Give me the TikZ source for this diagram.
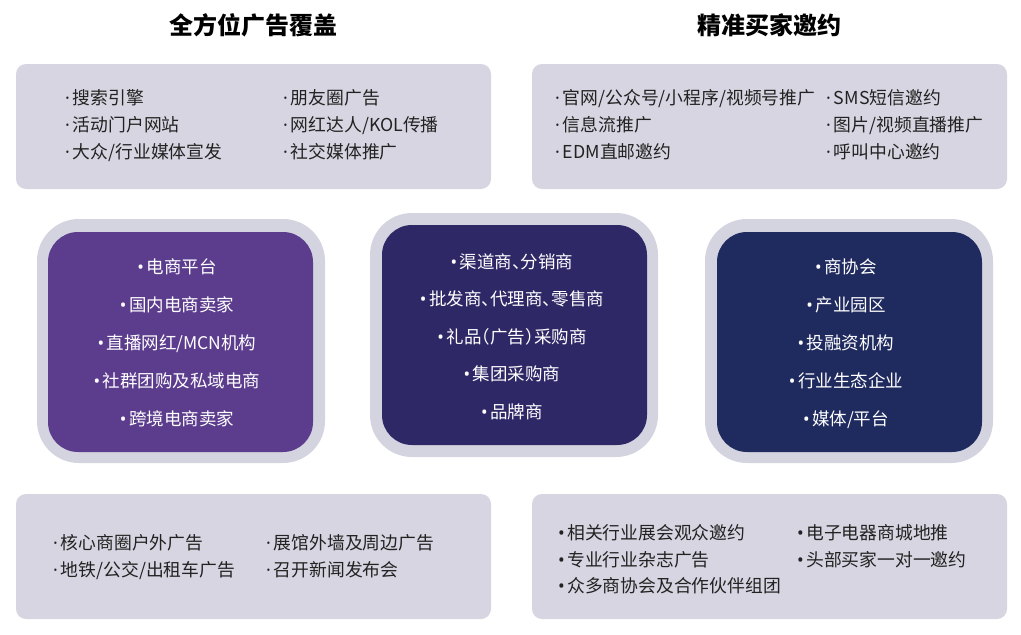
\documentclass[tikz,border=0pt]{standalone}
\usepackage{fontspec}
\setmainfont{Noto Sans CJK SC}
\newfontfamily\latinf{Noto Sans}
\newfontfamily\cjkhalt{Noto Sans CJK SC}[RawFeature=+halt]
\newcommand\mdotx{{\latinf ·}\kern3pt}
\newcommand\bulx{{\latinf •}\kern2.5pt}
\definecolor{panelgray}{HTML}{D6D5E1}
\definecolor{ringgray}{HTML}{D4D4E0}
\definecolor{cpurple}{HTML}{5C3D8D}
\definecolor{cindigo}{HTML}{2F2867}
\definecolor{cnavy}{HTML}{1F2A5E}
\definecolor{txt}{HTML}{222222}
\begin{document}
\begin{tikzpicture}[x=1pt,y=-1pt,
  panel/.style={fill=panelgray, draw=none, rounded corners=10pt, minimum width=475pt, minimum height=125pt, inner sep=0pt},
  ring/.style={fill=ringgray, draw=none, rounded corners=42pt, minimum width=288pt, minimum height=244pt, inner sep=0pt},
  core/.style={fill=#1, draw=none, rounded corners=30pt, minimum width=265pt, minimum height=220pt, inner sep=0pt},
  title/.style={font=\fontsize{24}{28}\selectfont\bfseries, text=black, inner sep=0pt},
  item/.style={anchor=west, inner sep=0pt, text height=13.5pt, text depth=0pt, font=\fontsize{17.8}{21}\selectfont, text=txt},
  citem/.style={inner sep=0pt, text height=13.3pt, text depth=0pt, font=\cjkhalt\fontsize{17.5}{21}\selectfont, text=white}]
\useasboundingbox (0,0) rectangle (1021,635);

% titles
\node[title] (t1) at (253,25) {全方位广告覆盖};
\node[title] (t2) at (769,25) {精准买家邀约};

% panels
\node[panel] (p1) at (253.5,126.5) {};
\node[panel] (p2) at (769.5,126.5) {};
\node[panel] (p3) at (253.5,556.5) {};
\node[panel] (p4) at (769.5,556.5) {};

% top-left items
\node[item] (a1) at (65,98) {\mdotx 搜索引擎};
\node[item] (a2) at (65,125) {\mdotx 活动门户网站};
\node[item] (a3) at (65,152) {\mdotx 大众/行业媒体宣发};
\node[item] (a4) at (283,98) {\mdotx 朋友圈广告};
\node[item] (a5) at (283,125) {\mdotx 网红达人/KOL传播};
\node[item] (a6) at (283,152) {\mdotx 社交媒体推广};

% top-right items
\node[item] (b1) at (555,98) {\mdotx 官网/公众号/小程序/视频号推广};
\node[item] (b2) at (555,125) {\mdotx 信息流推广};
\node[item] (b3) at (555,152) {\mdotx EDM直邮邀约};
\node[item] (b4) at (826,98) {\mdotx SMS短信邀约};
\node[item] (b5) at (826,125) {\mdotx 图片/视频直播推广};
\node[item] (b6) at (826,152) {\mdotx 呼叫中心邀约};

% bottom-left items
\node[item] (c1) at (53,543) {\mdotx 核心商圈户外广告};
\node[item] (c2) at (53,570) {\mdotx 地铁/公交/出租车广告};
\node[item] (c3) at (266,543) {\mdotx 展馆外墙及周边广告};
\node[item] (c4) at (266,570) {\mdotx 召开新闻发布会};

% bottom-right items
\node[item] (d1) at (558,533) {\bulx 相关行业展会观众邀约};
\node[item] (d2) at (558,560) {\bulx 专业行业杂志广告};
\node[item] (d3) at (558,586) {\bulx 众多商协会及合作伙伴组团};
\node[item] (d4) at (797,533) {\bulx 电子电器商城地推};
\node[item] (d5) at (797,560) {\bulx 头部买家一对一邀约};

% middle boxes
\node[ring] (r1) at (181,341) {};
\node[core=cpurple] (m1) at (180.5,342) {};
\node[ring] (r2) at (514,335) {};
\node[core=cindigo] (m2) at (514.5,335) {};
\node[ring] (r3) at (849,341) {};
\node[core=cnavy] (m3) at (849.5,342) {};

\node[citem] (e1) at (177,267) {\bulx 电商平台};
\node[citem] (e2) at (177,305) {\bulx 国内电商卖家};
\node[citem] (e3) at (177,343) {\bulx 直播网红/MCN机构};
\node[citem] (e4) at (177,381) {\bulx 社群团购及私域电商};
\node[citem] (e5) at (177,419) {\bulx 跨境电商卖家};

\node[citem] (f1) at (512,262) {\bulx 渠道商、分销商};
\node[citem] (f2) at (512,299) {\bulx 批发商、代理商、零售商};
\node[citem] (f3) at (512,337) {\bulx 礼品（广告）采购商};
\node[citem] (f4) at (512,374) {\bulx 集团采购商};
\node[citem] (f5) at (512,412) {\bulx 品牌商};

\node[citem] (g1) at (846,267) {\bulx 商协会};
\node[citem] (g2) at (846,305) {\bulx 产业园区};
\node[citem] (g3) at (846,343) {\bulx 投融资机构};
\node[citem] (g4) at (846,381) {\bulx 行业生态企业};
\node[citem] (g5) at (846,419) {\bulx 媒体/平台};
\end{tikzpicture}
\end{document}
